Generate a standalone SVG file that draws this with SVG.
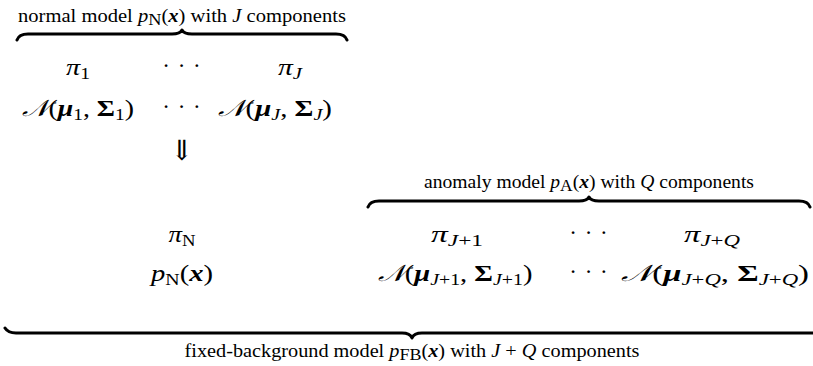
<svg xmlns="http://www.w3.org/2000/svg" width="813" height="366" viewBox="0 0 813 366">
<style>
text{font-family:"Liberation Serif","DejaVu Serif",serif;fill:#000;text-anchor:middle}
.lbl{font-size:18px}
.m{font-size:23px}
.i{font-style:italic}
.bi{font-style:italic;font-weight:bold}
.b{font-weight:bold}
.s{font-size:16px}
.dots{font-size:23px;letter-spacing:1px}
.arr{font-size:28px;font-family:"DejaVu Serif",serif}
.brace{fill:none;stroke:#000;stroke-width:3;stroke-linecap:round;stroke-linejoin:round}
</style>
<rect width="813" height="366" fill="#fff"/>
<g id="connectors">
<path class="brace" d="M17,40 Q19,34 28,34 L172,34 Q180,34 182,30 Q184,34 192,34 L336,34 Q345,34 347,40"/>
<path class="brace" d="M368,207 Q370,201 379,201 L579,201 Q587,201 589,197 Q591,201 599,201 L799,201 Q808,201 810,207"/>
<path class="brace" d="M5,328 Q8,333 16,333 L402,333 Q410,333 412,338 Q414,333 422,333 L816,333"/>
</g>
<g id="normal-label"><text class="lbl" x="182" y="22" textLength="328" lengthAdjust="spacingAndGlyphs">normal model <tspan class="i">p</tspan><tspan class="s" dy="3">N</tspan><tspan dy="-3">(</tspan><tspan class="bi">x</tspan>) with <tspan class="i">J</tspan> components</text></g>
<g id="pi1"><text class="m" x="78" y="75" textLength="24" lengthAdjust="spacingAndGlyphs"><tspan class="i">π</tspan><tspan class="s" dy="4">1</tspan></text></g>
<g id="dots1"><text class="dots" x="182" y="73">· · ·</text></g>
<g id="piJ"><text class="m" x="290" y="75" textLength="24" lengthAdjust="spacingAndGlyphs"><tspan class="i">π</tspan><tspan class="s i" dy="4">J</tspan></text></g>
<g id="N1"><text class="m" x="78" y="116" textLength="112" lengthAdjust="spacingAndGlyphs"><tspan class="i">𝒩</tspan>(<tspan class="bi">μ</tspan><tspan class="s" dy="4">1</tspan><tspan dy="-4">, </tspan><tspan class="b">Σ</tspan><tspan class="s" dy="4">1</tspan><tspan dy="-4">)</tspan></text></g>
<g id="dots2"><text class="dots" x="182" y="114">· · ·</text></g>
<g id="NJ"><text class="m" x="275" y="116" textLength="114" lengthAdjust="spacingAndGlyphs"><tspan class="i">𝒩</tspan>(<tspan class="bi">μ</tspan><tspan class="s i" dy="4">J</tspan><tspan dy="-4">, </tspan><tspan class="b">Σ</tspan><tspan class="s i" dy="4">J</tspan><tspan dy="-4">)</tspan></text></g>
<g id="arrow"><text class="arr" x="182" y="160">⇓</text></g>
<g id="piN"><text class="m" x="182" y="242" textLength="27" lengthAdjust="spacingAndGlyphs"><tspan class="i">π</tspan><tspan class="s" dy="4">N</tspan></text></g>
<g id="pN"><text class="m" x="182" y="281" textLength="62" lengthAdjust="spacingAndGlyphs"><tspan class="i">p</tspan><tspan class="s" dy="4">N</tspan><tspan dy="-4">(</tspan><tspan class="bi">x</tspan>)</text></g>
<g id="anomaly-label"><text class="lbl" x="589" y="188" textLength="330" lengthAdjust="spacingAndGlyphs">anomaly model <tspan class="i">p</tspan><tspan class="s" dy="3">A</tspan><tspan dy="-3">(</tspan><tspan class="bi">x</tspan>) with <tspan class="i">Q</tspan> components</text></g>
<g id="piJ1"><text class="m" x="457" y="242" textLength="52" lengthAdjust="spacingAndGlyphs"><tspan class="i">π</tspan><tspan class="s i" dy="4">J</tspan><tspan class="s">+1</tspan></text></g>
<g id="dots3"><text class="dots" x="589" y="240">· · ·</text></g>
<g id="piJQ"><text class="m" x="712" y="242" textLength="56" lengthAdjust="spacingAndGlyphs"><tspan class="i">π</tspan><tspan class="s i" dy="4">J</tspan><tspan class="s">+</tspan><tspan class="s i">Q</tspan></text></g>
<g id="NJ1"><text class="m" x="455" y="281" textLength="155" lengthAdjust="spacingAndGlyphs"><tspan class="i">𝒩</tspan>(<tspan class="bi">μ</tspan><tspan class="s i" dy="4">J</tspan><tspan class="s">+1</tspan><tspan dy="-4">, </tspan><tspan class="b">Σ</tspan><tspan class="s i" dy="4">J</tspan><tspan class="s">+1</tspan><tspan dy="-4">)</tspan></text></g>
<g id="dots4"><text class="dots" x="589" y="279">· · ·</text></g>
<g id="NJQ"><text class="m" x="715" y="281" textLength="188" lengthAdjust="spacingAndGlyphs"><tspan class="i">𝒩</tspan>(<tspan class="bi">μ</tspan><tspan class="s i" dy="4">J</tspan><tspan class="s">+</tspan><tspan class="s i">Q</tspan><tspan dy="-4">, </tspan><tspan class="b">Σ</tspan><tspan class="s i" dy="4">J</tspan><tspan class="s">+</tspan><tspan class="s i">Q</tspan><tspan dy="-4">)</tspan></text></g>
<g id="fb-label"><text class="lbl" x="412" y="357" textLength="455" lengthAdjust="spacingAndGlyphs">fixed-background model <tspan class="i">p</tspan><tspan class="s" dy="3">FB</tspan><tspan dy="-3">(</tspan><tspan class="bi">x</tspan>) with <tspan class="i">J</tspan> + <tspan class="i">Q</tspan> components</text></g>
</svg>
